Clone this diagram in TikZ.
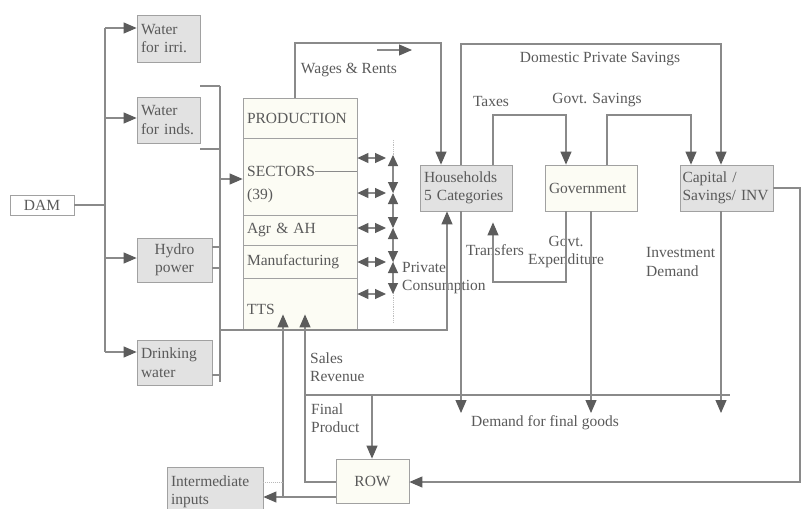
\documentclass[tikz,border=0pt]{standalone}
\usepackage{fontspec}
\setmainfont{Liberation Serif}
\usetikzlibrary{arrows.meta,calc}
\definecolor{ln}{HTML}{8A8A8A}
\definecolor{tipc}{HTML}{5C5C5C}
\definecolor{txt}{HTML}{5A5A5A}
\definecolor{gbox}{HTML}{E2E2E2}
\definecolor{cream}{HTML}{FCFCF4}
\begin{document}
\begin{tikzpicture}[x=1pt,y=-1pt,
  font=\fontsize{15.5}{18.5}\selectfont,
  conn/.style={draw=ln, line width=1.1pt},
  arr/.style={conn, -{Triangle[length=13pt,width=11pt,color=tipc]}},
  darr/.style={conn, {Triangle[length=11pt,width=10pt,color=tipc]}-{Triangle[length=11pt,width=10pt,color=tipc]}},
  gbx/.style={draw=ln!80, line width=0.8pt, fill=gbox, inner xsep=4pt, inner ysep=2pt, align=left, text=txt},
  cbx/.style={draw=ln!80, line width=0.8pt, fill=cream, inner xsep=4pt, inner ysep=2pt, align=left, text=txt},
  lbl/.style={text=txt, inner sep=0pt, align=left}]
\useasboundingbox (0,0) rectangle (807,509);
\fill[white] (0,0) rectangle (807,509);

% ---------- nodes ----------
\node[cbx, fill=white, minimum width=64pt, minimum height=20pt, align=center] (dam) at (42,205) {DAM};
\node[gbx, minimum width=63pt, minimum height=47pt, text width=55pt] (irri) at (168.5,38.5) {Water\\for irri.};
\node[gbx, minimum width=63pt, minimum height=46pt, text width=55pt] (inds) at (168.5,120) {Water\\for inds.};
\node[gbx, minimum width=75pt, minimum height=44pt, text width=67pt, align=center] (hydro) at (174.5,260) {Hydro\\power};
\node[gbx, minimum width=75pt, minimum height=45pt, text width=67pt] (drink) at (174.5,362.5) {Drinking\\water};

\node[cbx, minimum width=114pt, minimum height=40pt, text width=106pt] (prod) at (300,118) {PRODUCTION};
\node[cbx, minimum width=114pt, minimum height=77pt] (sect) at (300,176.5) {};
\node[cbx, minimum width=114pt, minimum height=30pt, text width=106pt] (agr) at (300,230) {Agr \& AH};
\node[cbx, minimum width=114pt, minimum height=33pt, text width=106pt] (manu) at (300,261.5) {Manufacturing};
\node[cbx, minimum width=114pt, minimum height=51pt] (tts) at (300,303.5) {};
\node[lbl, anchor=west] (secttxt) at (247,171) {SECTORS};
\node[lbl, anchor=west] (sectnum) at (247,196) {(39)};
\node[lbl, anchor=west] (ttstxt) at (247,309) {TTS};

\node[gbx, minimum width=92pt, minimum height=46pt, text width=84pt] (hh) at (466,188) {Households\\5 Categories};
\node[cbx, minimum width=92pt, minimum height=46pt, text width=84pt] (gov) at (591,188) {Government};
\node[gbx, minimum width=93pt, minimum height=46pt, text width=88pt, inner xsep=2.5pt] (cap) at (726.5,188) {Capital /\\Savings/ INV};
\node[cbx, minimum width=73pt, minimum height=44pt, align=center] (row) at (372.5,481) {ROW};
\node[gbx, minimum width=96pt, minimum height=50pt, text width=88pt, inner ysep=0pt] (inter) at (215,492) {Intermediate\\inputs};

% ---------- labels ----------
\node[lbl] (lwages) at (349,70) {Wages \& Rents};
\node[lbl] (ldps) at (600,59) {Domestic Private Savings};
\node[lbl] (ltax) at (491,101) {Taxes};
\node[lbl] (lgs) at (597,100) {Govt. Savings};
\node[lbl] (ltr) at (495,250) {Transfers};
\node[lbl, align=center] (lge) at (566,252) {Govt.\\Expenditure};
\node[lbl, anchor=west] (lpc) at (402,278) {Private\\Consumption};
\node[lbl, anchor=west] (lid) at (646,262) {Investment\\Demand};
\node[lbl, anchor=west] (lsr) at (310,367) {Sales\\Revenue};
\node[lbl, anchor=west] (lfp) at (311,418) {Final\\Product};
\node[lbl, anchor=west] (ldf) at (471,423) {Demand for final goods};

% ---------- coordinates ----------
\coordinate (k0) at (105,205);
\coordinate (ka) at (105,28);
\coordinate (kb) at (105,118);
\coordinate (kc) at (105,258);
\coordinate (kd) at (105,352);
\coordinate (br1) at (220,86);
\coordinate (br2) at (220,382);
\coordinate (br3) at (220,149);
\coordinate (br4) at (220,247);
\coordinate (br5) at (220,268);
\coordinate (br6) at (220,375);
\coordinate (br7) at (220,179);
\coordinate (pc1) at (220,330);
\coordinate (pc2) at (447,330);
\coordinate (w1) at (295,43);
\coordinate (w2) at (441,43);
\coordinate (wa) at (377,50);
\coordinate (wb) at (412,50);
\coordinate (d1) at (461,44);
\coordinate (d2) at (721,44);
\coordinate (d3) at (461,413);
\coordinate (t1) at (493,115);
\coordinate (t2) at (566,115);
\coordinate (s1) at (607,115);
\coordinate (s2) at (691,115);
\coordinate (tr1) at (566,282);
\coordinate (tr2) at (493,282);
\coordinate (g1) at (591,413);
\coordinate (k1) at (721,413);
\coordinate (dl1) at (305,395);
\coordinate (dl2) at (730,395);
\coordinate (fp) at (372,395);
\coordinate (r1) at (800,188);
\coordinate (r2) at (800,482);
\coordinate (b1) at (283,497);
\coordinate (b2) at (305,482);
\coordinate (vd1) at (393,140);
\coordinate (vd2) at (393,322);
\coordinate (v1) at (393,155);
\coordinate (v2) at (393,193);
\coordinate (v3) at (393,228);
\coordinate (v4) at (393,262);
\coordinate (v5) at (393,294);
\coordinate (h1) at (386,158);
\coordinate (h2) at (386,193);
\coordinate (h3) at (386,228);
\coordinate (h4) at (386,262);
\coordinate (h5) at (386,294);

% ---------- connectors ----------
% DAM distribution
\draw[conn] (dam.east) -- (k0);
\draw[conn] (ka) -- (kd);
\draw[arr] (ka) -- (irri.west |- ka);
\draw[arr] (kb) -- (inds.west |- kb);
\draw[arr] (kc) -- (hydro.west |- kc);
\draw[arr] (kd) -- (drink.west |- kd);

% bracket into production
\draw[conn] (br1) -- (br2);
\draw[conn] (inds.east |- br1) -- (br1);
\draw[conn] (inds.east |- br3) -- (br3);
\draw[conn] (hydro.east |- br4) -- (br4);
\draw[conn] (hydro.east |- br5) -- (br5);
\draw[conn] (drink.east |- br6) -- (br6);
\draw[arr] (br7) -- (sect.west |- br7);

% SECTORS rule
\draw[conn, line width=0.8pt] (secttxt.east) -- (sect.east |- secttxt);

% inter-sector flows
\draw[ln!55, line width=0.8pt, densely dotted] (vd1) -- (vd2);
\draw[darr] (sect.east |- h1) -- (h1);
\draw[darr] (sect.east |- h2) -- (h2);
\draw[darr] (agr.east |- h3) -- (h3);
\draw[darr] (manu.east |- h4) -- (h4);
\draw[darr] (tts.east |- h5) -- (h5);
\draw[darr] (v1) -- (v2);
\draw[darr] (v2) -- (v3);
\draw[darr] (v3) -- (v4);
\draw[darr] (v4) -- (v5);

% wages & rents
\draw[arr] (prod.north -| w1) -- (w1) -- (w2) -- (hh.north -| w2);
\draw[arr] (wa) -- (wb);

% domestic private savings
\draw[arr] (hh.north -| d1) -- (d1) -- (d2) -- (cap.north -| d2);
\draw[arr] (hh.south -| d1) -- (d3);

% taxes and govt savings
\draw[arr] (hh.north -| t1) -- (t1) -- (t2) -- (gov.north -| t2);
\draw[arr] (gov.north -| s1) -- (s1) -- (s2) -- (cap.north -| s2);

% transfers
\draw[arr, shorten >=11pt] (gov.south -| tr1) -- (tr1) -- (tr2) -- (hh.south -| tr2);

% demand for final goods
\draw[conn] (dl1) -- (dl2);
\draw[arr] (gov.south) -- (g1);
\draw[arr] (cap.south -| k1) -- (k1);
\draw[arr] (fp) -- (row.north -| fp);

% private consumption
\draw[arr] (pc1) -- (pc2) -- (hh.south -| pc2);

% rest of world loop
\draw[arr] (cap.east) -- (r1) -- (r2) -- (row.east |- r2);

% ROW to production and intermediate inputs
\draw[arr, shorten >=-15pt] (row.west |- b2) -- (b2) -- (tts.south -| b2);
\draw[arr] (row.west |- b1) -- (inter.east |- b1);
\draw[arr, shorten >=-15pt] (b1) -- (tts.south -| b1);
\draw[ln!60, line width=0.9pt, densely dotted] (inter.east |- b2) -- (b1 |- b2);
\end{tikzpicture}
\end{document}
